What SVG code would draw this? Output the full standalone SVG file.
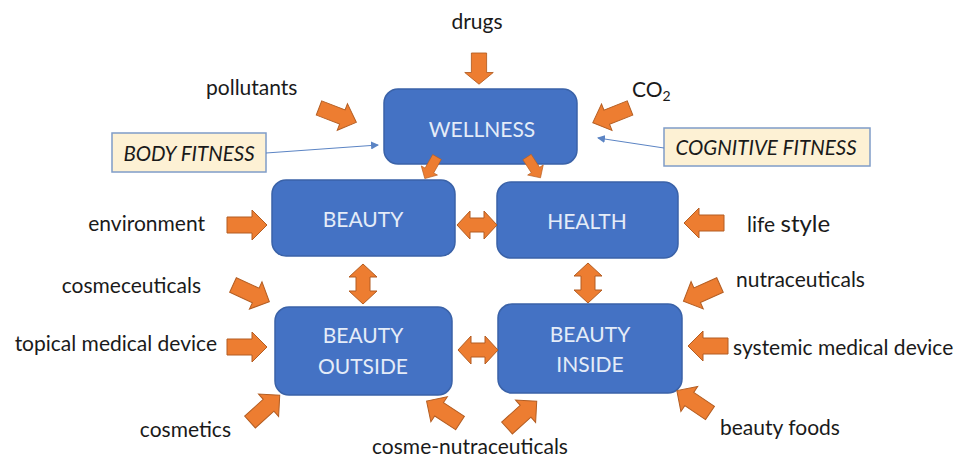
<svg xmlns="http://www.w3.org/2000/svg" xmlns:xlink="http://www.w3.org/1999/xlink" width="959" height="459" viewBox="0 0 959 459">
<style>
.box{fill:#4472c4;stroke:#3a62a8;stroke-width:1.5}
.bt{font-family:Lato,"Liberation Sans",sans-serif;font-size:21px;fill:#e4ecf8;text-anchor:middle}
.lb{font-family:Lato,"Liberation Sans",sans-serif;font-size:21px;fill:#1a1a1a}
.fit{fill:#fdf1d4;stroke:#7f9cc8;stroke-width:1.5}
.ft{font-family:Lato,"Liberation Sans",sans-serif;font-size:20.5px;font-style:italic;fill:#1a1a1a;text-anchor:middle}
.oa{fill:#ed7d31;stroke:#b35d22;stroke-width:1}
.thin{stroke:#5b84c4;stroke-width:1;fill:none;marker-end:url(#ah)}
</style>
<defs>
<path id="a1" class="oa" d="M0,-8 H25 V-15 L40,0 L25,15 V8 H0 Z"/>
<path id="a2" class="oa" d="M-20,0 L-7,-14 V-7 H7 V-14 L20,0 L7,14 V7 H-7 V14 Z"/>
<marker id="ah" markerWidth="8" markerHeight="8" refX="7" refY="4" orient="auto" markerUnits="userSpaceOnUse">
<path d="M0,0 L8,4 L0,8 Z" fill="#5b84c4"/>
</marker>
</defs>
<rect width="959" height="459" fill="#ffffff"/>
<g id="wellness">
<rect class="box" x="384" y="89" width="193" height="75" rx="14"/>
<text class="bt" x="482" y="137">WELLNESS</text>
</g>
<g id="beauty">
<rect class="box" x="272" y="180" width="183" height="76" rx="14"/>
<text class="bt" x="363" y="227">BEAUTY</text>
</g>
<g id="health">
<rect class="box" x="497" y="182" width="181" height="76" rx="14"/>
<text class="bt" x="587" y="229">HEALTH</text>
</g>
<g id="beauty-outside">
<rect class="box" x="275" y="307" width="177" height="88" rx="14"/>
<text class="bt" x="363" y="343">BEAUTY</text>
<text class="bt" x="363" y="374">OUTSIDE</text>
</g>
<g id="beauty-inside">
<rect class="box" x="498" y="304" width="184" height="89" rx="14"/>
<text class="bt" x="590" y="342">BEAUTY</text>
<text class="bt" x="590" y="372">INSIDE</text>
</g>
<g id="body-fitness">
<rect class="fit" x="112" y="133" width="154" height="39"/>
<text class="ft" x="189" y="161">BODY FITNESS</text>
</g>
<g id="cognitive-fitness">
<rect class="fit" x="664" y="128" width="206" height="38"/>
<text class="ft" x="766" y="155">COGNITIVE FITNESS</text>
</g>
<g id="connectors">
<use xlink:href="#a1" transform="translate(437,157) rotate(119.5) scale(0.62)"/>
<use xlink:href="#a1" transform="translate(527,157) rotate(57) scale(0.62)"/>
<use xlink:href="#a1" transform="translate(479,53) rotate(90) scale(0.78,0.95)"/>
<use xlink:href="#a1" transform="translate(319,108) rotate(21) scale(1,0.95)"/>
<use xlink:href="#a1" transform="translate(630,108) rotate(158.5) scale(1,0.95)"/>
<use xlink:href="#a1" transform="translate(227,225)"/>
<use xlink:href="#a1" transform="translate(724,223) rotate(180)"/>
<use xlink:href="#a1" transform="translate(233,285) rotate(24.7)"/>
<use xlink:href="#a1" transform="translate(227,347)"/>
<use xlink:href="#a1" transform="translate(250,422) rotate(-42)"/>
<use xlink:href="#a1" transform="translate(460,423) rotate(-146.7)"/>
<use xlink:href="#a1" transform="translate(507,428) rotate(-42)"/>
<use xlink:href="#a1" transform="translate(720,285) rotate(156)"/>
<use xlink:href="#a1" transform="translate(728,346) rotate(180)"/>
<use xlink:href="#a1" transform="translate(710,413) rotate(-146)"/>
<use xlink:href="#a2" transform="translate(477,225)"/>
<use xlink:href="#a2" transform="translate(478,350)"/>
<use xlink:href="#a2" transform="translate(363,284) rotate(90)"/>
<use xlink:href="#a2" transform="translate(588,283) rotate(90)"/>
<line class="thin" x1="266" y1="153" x2="378" y2="145"/>
<line class="thin" x1="664" y1="148" x2="598" y2="138"/>
</g>
<g id="labels">
<text class="lb" x="477" y="29" text-anchor="middle" font-size="22">drugs</text>
<text class="lb" x="206" y="95">pollutants</text>
<text class="lb" x="632" y="97">CO<tspan font-size="14" dy="4">2</tspan></text>
<text class="lb" x="205" y="231" text-anchor="end">environment</text>
<text class="lb" x="201" y="293" text-anchor="end">cosmeceuticals</text>
<text class="lb" x="217" y="351" text-anchor="end">topical medical device</text>
<text class="lb" x="231" y="437" text-anchor="end">cosmetics</text>
<text class="lb" x="470" y="454" text-anchor="middle">cosme-nutraceuticals</text>
<text class="lb" x="747" y="232">life <tspan font-size="24">style</tspan></text>
<text class="lb" x="736" y="287">nutraceuticals</text>
<text class="lb" x="733" y="355">systemic medical device</text>
<text class="lb" x="720" y="435">beauty foods</text>
</g>
</svg>
